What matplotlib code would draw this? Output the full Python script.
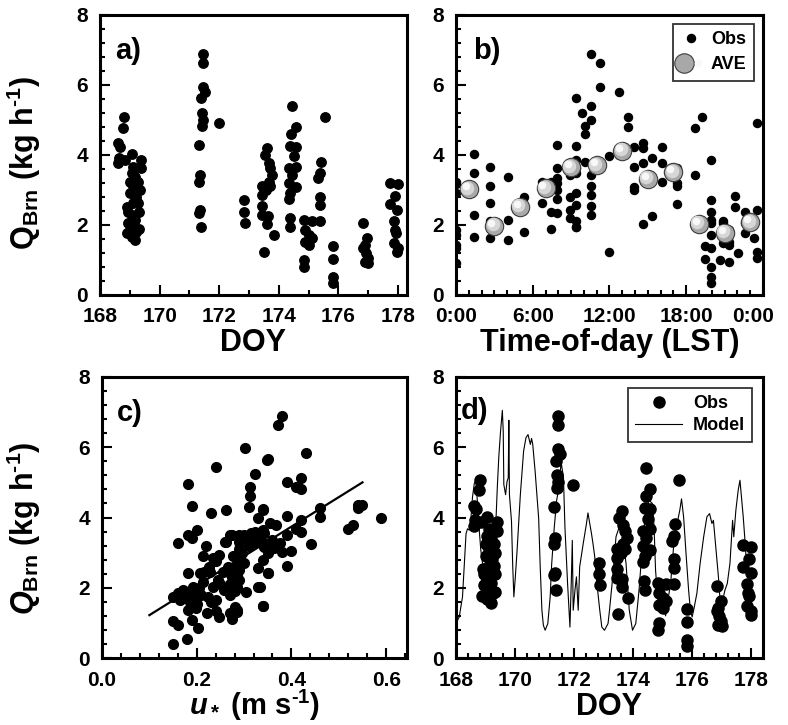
import numpy as np
import matplotlib
matplotlib.use("Agg")
import matplotlib.pyplot as plt
from matplotlib.lines import Line2D
from matplotlib.legend_handler import HandlerTuple
from matplotlib.transforms import offset_copy, ScaledTranslation

plt.rcParams['font.family'] = ['Liberation Sans', 'DejaVu Sans']
plt.rcParams['font.weight'] = 'bold'
plt.rcParams['mathtext.fontset'] = 'custom'
plt.rcParams['mathtext.rm'] = 'Liberation Sans:bold'
plt.rcParams['mathtext.it'] = 'Liberation Sans:bold:italic'
plt.rcParams['mathtext.bf'] = 'Liberation Sans:bold'

obs_doy = [168.80, 168.78, 168.61, 168.67, 168.64, 168.61, 168.83, 169.06, 169.39, 169.39,
           169.11, 169.06, 169.00, 169.28, 169.33, 169.00, 169.22, 169.11, 168.91, 169.31,
           169.06, 168.94, 169.17, 168.89, 169.22, 169.31, 169.17, 169.06, 169.11, 168.94,
           169.11, 169.00, 169.28, 169.17,
           171.44, 171.47, 171.47, 171.53, 171.39, 171.41, 171.44, 171.42, 171.98, 171.33,
           171.37, 171.31, 171.37, 171.33, 171.39,
           172.83, 172.83, 172.87,
           173.61, 173.53, 173.67, 173.72, 173.78, 173.67, 173.44, 173.72, 173.58, 173.44,
           173.44, 173.44, 173.64, 173.61, 173.83, 173.50,
           174.44, 174.56, 174.42, 174.39, 174.58, 174.50, 174.58, 174.33, 174.44, 174.33,
           174.58, 174.39, 174.33, 174.37, 174.39,
           174.83, 175.11, 175.39, 174.89, 175.00, 175.11, 174.89, 175.00, 174.86, 174.83,
           175.56, 175.42, 175.39, 175.33, 175.37, 175.39,
           175.81, 175.81, 175.83, 175.83,
           176.83, 176.97, 176.89, 176.83, 176.92, 176.98, 177.00, 176.89,
           177.72, 178.00, 177.91, 177.72, 177.98, 177.87, 177.89, 177.94, 177.87, 177.98,
           178.00]
obs_q = [5.08, 4.78, 4.33, 4.24, 3.92, 3.76, 3.86, 4.02, 3.87, 3.62,
         3.67, 3.48, 3.24, 3.24, 3.00, 2.90, 2.81, 2.62, 2.52, 2.38,
         2.29, 2.07, 2.14, 1.76, 1.81, 1.88, 1.57, 1.67, 3.10, 2.38,
         1.95, 1.86, 2.62, 3.38,
         6.89, 6.62, 5.95, 5.81, 5.62, 5.21, 5.00, 4.83, 4.92, 4.29,
         3.43, 3.24, 2.43, 2.35, 1.93,
         2.71, 2.38, 2.07,
         4.19, 4.00, 3.78, 3.62, 3.43, 3.24, 3.11, 3.11, 3.00, 2.86,
         2.54, 2.28, 2.26, 2.03, 1.71, 1.24,
         5.40, 4.81, 4.60, 4.26, 4.24, 3.96, 3.67, 3.62, 3.43, 3.19,
         3.08, 2.90, 2.73, 2.19, 1.95,
         2.14, 2.12, 2.12, 1.86, 1.71, 1.62, 1.52, 1.43, 1.00, 0.79,
         5.08, 3.81, 3.48, 3.33, 2.81, 2.57,
         1.40, 1.03, 0.50, 0.35,
         2.05, 1.62, 1.43, 1.33, 1.19, 1.05, 0.91, 0.95,
         3.21, 3.17, 2.83, 2.60, 2.43, 2.10, 1.86, 1.76, 1.48, 1.22,
         1.33]

# ---- 2-hourly averages (panel b) ----
ave_hour = [1, 3, 5, 7, 9, 11, 13, 15, 17, 19, 21, 23]
ave_q = [3.02, 1.97, 2.52, 3.05, 3.65, 3.70, 4.12, 3.32, 3.50, 2.03, 1.78, 2.08]

# ---- friction velocity vs flux (panel c) ----
ustar = [0.301, 0.348, 0.241, 0.323, 0.182, 0.313, 0.313, 0.191, 0.310, 0.231,
         0.261, 0.340, 0.330, 0.200, 0.182, 0.191, 0.161, 0.220, 0.270, 0.290,
         0.262, 0.322, 0.340, 0.343, 0.213, 0.248, 0.276, 0.291, 0.182, 0.206,
         0.227, 0.245, 0.270, 0.290, 0.171, 0.192, 0.213, 0.150, 0.164, 0.185,
         0.224, 0.241, 0.270, 0.305, 0.330, 0.182, 0.199, 0.221, 0.248, 0.270,
         0.284, 0.150, 0.161, 0.189, 0.202, 0.340, 0.150, 0.180, 0.350, 0.330,
         0.284, 0.257, 0.234,
         0.380, 0.372, 0.431, 0.350, 0.390, 0.420, 0.410, 0.420, 0.460, 0.460,
         0.420, 0.540, 0.550, 0.540, 0.590, 0.530, 0.520, 0.390, 0.340, 0.354,
         0.368, 0.410, 0.420, 0.390, 0.343, 0.360, 0.375, 0.441, 0.343, 0.364,
         0.380, 0.400, 0.350, 0.340, 0.390, 0.350, 0.333, 0.340,
         0.280, 0.285, 0.290, 0.275, 0.300, 0.295, 0.310, 0.320, 0.305, 0.290,
         0.270, 0.280, 0.265, 0.255, 0.300, 0.315, 0.325, 0.335, 0.280, 0.285,
         0.275, 0.240, 0.230, 0.210, 0.200, 0.195, 0.185, 0.170, 0.160, 0.215,
         0.225, 0.240, 0.235, 0.260, 0.275, 0.290, 0.205, 0.250]
ustar_q = [5.97, 5.64, 5.43, 5.24, 4.95, 4.86, 4.62, 4.33, 4.29, 4.14,
           4.20, 4.24, 4.00, 3.63, 3.50, 3.41, 3.27, 3.20, 3.50, 3.50,
           3.31, 3.60, 3.65, 3.18, 2.89, 2.94, 2.89, 2.79, 2.41, 2.41,
           2.46, 2.22, 2.41, 2.22, 1.94, 2.03, 2.17, 1.75, 1.65, 1.60,
           1.75, 1.65, 1.79, 1.89, 2.03, 1.37, 1.42, 1.27, 1.18, 1.27,
           1.37, 1.04, 0.94, 1.08, 0.85, 1.48, 0.40, 0.53, 2.41, 2.56,
           2.03, 1.94, 2.03,
           6.89, 6.64, 5.85, 5.66, 5.02, 5.12, 4.86, 4.80, 4.26, 4.01,
           3.93, 4.36, 4.36, 4.26, 3.98, 3.79, 3.67, 4.04, 4.20, 3.84,
           3.79, 3.67, 3.60, 3.50, 3.55, 3.36, 3.27, 3.25, 3.17, 3.12,
           3.03, 3.06, 2.98, 2.79, 2.62, 2.41, 2.03, 1.48,
           2.60, 2.40, 2.50, 2.30, 2.70, 3.00, 3.20, 3.30, 3.40, 3.10,
           2.10, 1.90, 2.60, 2.45, 3.50, 3.55, 3.30, 3.35, 1.45, 1.30,
           1.10, 1.35, 1.60, 1.80, 1.55, 1.75, 1.90, 1.75, 1.85, 2.45,
           2.60, 2.75, 2.85, 3.30, 3.50, 3.30, 2.00, 2.10]
fit_u = [0.10, 0.55]
fit_slope, fit_icpt = 8.4, 0.38

# ---- modelled flux (panel d) ----
model_doy = [168.00, 168.11, 168.22, 168.34, 168.39, 168.45, 168.50, 168.56, 168.62, 168.67,
             168.73, 168.78, 168.84, 168.90, 168.95, 169.02, 169.10, 169.23, 169.34, 169.40,
             169.45, 169.51, 169.57, 169.60, 169.62, 169.68, 169.73, 169.77, 169.79, 169.81,
             169.88, 169.92, 169.96, 170.01, 170.07, 170.18, 170.29, 170.37, 170.44, 170.52,
             170.56, 170.60, 170.68, 170.80, 170.85, 170.91, 170.96, 171.02, 171.11, 171.19,
             171.24, 171.33, 171.41, 171.49, 171.56, 171.64, 171.69, 171.78, 171.86, 171.91,
             171.94, 171.97, 172.03, 172.08, 172.14, 172.19, 172.31, 172.42, 172.47, 172.53,
             172.59, 172.64, 172.70, 172.75, 172.87, 172.94, 173.03, 173.15, 173.20, 173.31,
             173.42, 173.53, 173.65, 173.76, 173.87, 173.98, 174.09, 174.20, 174.32, 174.43,
             174.54, 174.65, 174.71, 174.76, 174.82, 174.93, 174.98, 175.04, 175.10, 175.16,
             175.27, 175.38, 175.49, 175.58, 175.64, 175.71, 175.80, 175.88, 175.94, 176.00,
             176.05, 176.16, 176.27, 176.39, 176.50, 176.59, 176.67, 176.72, 176.81, 176.89,
             176.97, 177.06, 177.11, 177.19, 177.28, 177.37, 177.41, 177.48, 177.56, 177.62,
             177.67, 177.73, 177.78, 177.84, 177.92, 178.00]
model_q = [0.98, 1.17, 1.74, 3.54, 3.68, 3.64, 3.92, 4.59, 4.97, 5.06,
           4.40, 3.73, 3.07, 2.69, 2.31, 1.90, 2.10, 2.69, 3.64, 4.87,
           5.73, 6.46, 7.05, 6.46, 4.94, 4.65, 5.03, 5.13, 6.77, 4.65,
           3.89, 2.66, 1.74, 2.31, 3.07, 4.65, 5.89, 6.27, 6.36, 6.08,
           6.25, 6.08, 5.32, 3.98, 2.66, 1.36, 0.93, 0.79, 0.98, 1.74,
           2.66, 3.73, 4.49, 4.87, 5.58, 5.15, 3.73, 2.12, 0.88, 2.31,
           3.35, 1.36, 1.93, 2.31, 1.36, 2.60, 3.26, 3.83, 4.13, 3.83,
           3.54, 3.26, 2.88, 2.31, 1.36, 0.88, 0.79, 0.98, 1.36, 2.31,
           3.45, 3.73, 3.45, 2.69, 1.36, 0.79, 0.98, 1.93, 3.26, 4.20,
           4.49, 4.40, 3.73, 2.50, 1.84, 1.36, 1.60, 1.46, 1.20, 1.55,
           2.12, 3.26, 3.83, 4.20, 4.53, 4.02, 2.88, 1.93, 1.36, 1.17,
           1.36, 1.84, 2.69, 3.45, 4.02, 4.11, 3.83, 3.92, 3.07, 2.31,
           1.36, 1.74, 1.93, 2.12, 2.69, 3.92, 3.45, 4.20, 4.78, 5.06,
           4.59, 4.02, 3.45, 2.69, 2.30, 2.12]

obs_doy = np.array(obs_doy)
obs_q = np.array(obs_q)
obs_hour = (obs_doy - np.floor(obs_doy)) * 24

fig = plt.figure(figsize=(7.88, 7.25), dpi=100)
W, H = 788, 725


def box(l, t, r, b):
    return [l / W, 1 - b / H, (r - l) / W, (b - t) / H]


ax_a = fig.add_axes(box(100, 15, 407, 295))
ax_b = fig.add_axes(box(456, 15, 763, 295))
ax_c = fig.add_axes(box(102, 377, 407, 658))
ax_d = fig.add_axes(box(456, 377, 763, 658))

ylab_up = r'$\mathrm{Q_{Brn}}$ (kg h$^{\text{-1}}$)'
ylab_it = r'$Q_{\mathrm{Brn}}$ (kg h$^{\text{-1}}$)'

for ax in (ax_a, ax_b, ax_c, ax_d):
    ax.set_ylim(0, 8)
    ax.set_yticks([0, 2, 4, 6, 8])
    ax.set_yticks(np.arange(0, 8.01, 0.4), minor=True)
    ax.tick_params(which='both', direction='in', top=False, right=False,
                   labelsize=15, width=1.5)
    ax.tick_params(axis='x', pad=9)
    ax.tick_params(axis='y', pad=8.5)
    ax.tick_params(which='major', length=7)
    ax.tick_params(which='minor', length=3.5)
    for sp in ax.spines.values():
        sp.set_linewidth(2.2)

# a)
ax_a.plot(obs_doy, obs_q, 'o', color='black', ms=6.8)
ax_a.set_xlim(168, 178.3)
ax_a.set_xticks(np.arange(168, 179, 2))
ax_a.set_xticks(np.arange(168, 179, 1), minor=True)
ax_a.set_xlabel('DOY', fontsize=22, fontweight='bold', labelpad=1)
ax_a.set_ylabel(ylab_up, fontsize=22, fontweight='bold')
ax_a.yaxis.set_label_coords(-0.186, 0.47)
ax_a.text(0.05, 0.92, 'a)', transform=ax_a.transAxes, fontsize=21,
          fontweight='bold', va='top')

# b)
ax_b.plot(obs_hour, obs_q, 'o', color='black', ms=5.8, label='Obs')
sh1 = offset_copy(ax_b.transData, fig=fig, x=-1.2, y=1.2, units='points')
sh2 = offset_copy(ax_b.transData, fig=fig, x=-2.2, y=2.2, units='points')
ax_b.scatter(ave_hour, ave_q, s=175, color='#a8a8a8', edgecolor='#3c3c3c',
             linewidth=0.8, zorder=3)
ax_b.scatter(ave_hour, ave_q, s=95, color='#d6d6d6', linewidth=0,
             transform=sh1, zorder=4)
ax_b.scatter(ave_hour, ave_q, s=30, color='#f8f8f8', linewidth=0,
             transform=sh2, zorder=5)
ax_b.set_xlim(0, 24)
ax_b.set_xticks([0, 6, 12, 18, 24])
ax_b.set_xticklabels(['0:00', '6:00', '12:00', '18:00', '0:00'])
ax_b.set_xticks(np.arange(0, 25, 1), minor=True)
last = ax_b.get_xticklabels()[-1]
last.set_transform(last.get_transform() +
                   ScaledTranslation(-0.1, 0, fig.dpi_scale_trans))
ax_b.set_xlabel('Time-of-day (LST)', fontsize=22, fontweight='bold', labelpad=1)
ax_b.text(0.055, 0.92, 'b)', transform=ax_b.transAxes, fontsize=21,
          fontweight='bold', va='top')
h_obs = Line2D([], [], ls='none', marker='o', color='black', ms=5.8)
h_ave1 = Line2D([], [], ls='none', marker='o', ms=14, mfc='#a8a8a8',
                mec='#3c3c3c', mew=0.8)
h_ave2 = Line2D([], [], ls='none', marker='o', ms=5.5, mfc='#f8f8f8', mec='none')
leg = ax_b.legend([h_obs, (h_ave1, h_ave2)], ['Obs', 'AVE'],
                  handler_map={tuple: HandlerTuple(ndivide=None)},
                  loc='upper right', fontsize=13, frameon=True, fancybox=False,
                  borderaxespad=0.5, handlelength=1.2, handletextpad=0.5,
                  labelspacing=0.45, borderpad=0.4)
leg.get_frame().set_edgecolor('black')
leg.get_frame().set_linewidth(1.3)

# c)
ax_c.plot(ustar, ustar_q, 'o', color='black', ms=7)
fit_u = np.array(fit_u)
ax_c.plot(fit_u, fit_icpt + fit_slope * fit_u, color='black', lw=1.6)
ax_c.set_xlim(0, 0.644)
ax_c.set_xticks([0.0, 0.2, 0.4, 0.6])
ax_c.set_xticklabels(['0.0', '0.2', '0.4', '0.6'])
ax_c.set_xticks(np.arange(0, 0.641, 0.04), minor=True)
ax_c.set_xlabel(r'$u_*$ (m s$^{\text{-1}}$)', fontsize=21, fontweight='bold')
ax_c.xaxis.set_label_coords(0.5, -0.105)
ax_c.set_ylabel(ylab_it, fontsize=22, fontweight='bold')
ax_c.yaxis.set_label_coords(-0.193, 0.46)
ax_c.text(0.05, 0.92, 'c)', transform=ax_c.transAxes, fontsize=21,
          fontweight='bold', va='top')

# d)
ax_d.plot(model_doy, model_q, color='black', lw=0.8, label='Model')
ax_d.plot(obs_doy, obs_q, 'o', color='black', ms=8, label='Obs')
ax_d.set_xlim(168, 178.33)
ax_d.set_xticks(np.arange(168, 179, 2))
ax_d.set_xticks(np.arange(168, 178.4, 0.4), minor=True)
ax_d.set_xlabel('DOY', fontsize=22, fontweight='bold', labelpad=2)
ax_d.text(0.015, 0.93, 'd)', transform=ax_d.transAxes, fontsize=21,
          fontweight='bold', va='top')
h_dobs = Line2D([], [], ls='none', marker='o', color='black', ms=8)
h_mod = Line2D([], [], color='black', lw=0.8)
leg2 = ax_d.legend([h_dobs, h_mod], ['Obs', 'Model'], loc='upper right',
                   fontsize=13, frameon=True, fancybox=False, borderaxespad=0.6,
                   handlelength=2.6, handletextpad=0.6, labelspacing=0.3,
                   borderpad=0.4)
leg2.get_frame().set_edgecolor('black')
leg2.get_frame().set_linewidth(1.3)

fig.savefig('out.png', dpi=100)
